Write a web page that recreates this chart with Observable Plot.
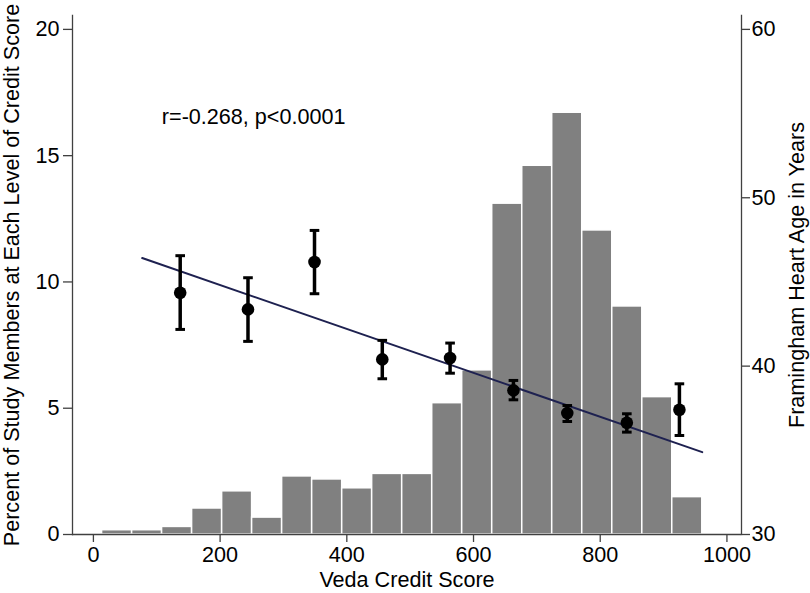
<!DOCTYPE html>
<html>
<head>
<meta charset="utf-8">
<script src="https://cdn.jsdelivr.net/npm/d3@7"></script>
<script src="https://cdn.jsdelivr.net/npm/@observablehq/plot@0.6"></script>
<style>
  html, body { margin: 0; padding: 0; background: #fff; }
</style>
</head>
<body>
<div id="chart"></div>
<script>
// ---- Data ----
// Histogram of Veda credit scores: bin edges and percent of study members per bin
const binEdges = [13.7, 61.1, 108.4, 155.8, 203.2, 250.5, 297.9, 345.3, 392.7, 440.0, 487.4,
                  534.8, 582.1, 629.5, 676.9, 724.2, 771.6, 819.0, 866.4, 913.7, 961.1];
const binPercent = [0.17, 0.17, 0.30, 1.03, 1.71, 0.67, 2.30, 2.18, 1.83, 2.40,
                    2.40, 5.20, 6.50, 13.10, 14.60, 16.70, 12.04, 9.03, 5.44, 1.48];

// Mean Framingham heart age (with CI) per credit-score group
const pointScore = [137, 244, 349, 456, 563, 663, 748, 842, 925];
const pointAge   = [44.36, 43.37, 46.18, 40.40, 40.48, 38.56, 37.21, 36.64, 37.41];
const pointUpper = [46.56, 45.25, 48.06, 41.53, 41.37, 39.15, 37.66, 37.17, 38.95];
const pointLower = [42.18, 41.47, 44.30, 39.25, 39.58, 38.00, 36.71, 36.08, 35.88];

// Linear fit line (end points)
const fitScore = [77, 961];
const fitAge   = [46.42, 34.89];

// Ticks and text
const xTicks = [0, 200, 400, 600, 800, 1000];
const leftTicks = [0, 5, 10, 15, 20];
const rightTicks = [30, 40, 50, 60];
const xTitle = "Veda Credit Score";
const leftTitle = "Percent of Study Members at Each Level of Credit Score";
const rightTitle = "Framingham Heart Age in Years";
const annotation = ["r=-0.268, p<0.0001"];

// ---- Build ----
// The right (age) axis 30..60 maps onto the left (percent) axis 0..20
const toLeft = a => (a - 30) / 1.5;

const bins = binPercent.map((p, i) => ({x1: binEdges[i], x2: binEdges[i + 1], p}));
const pts = pointScore.map((s, i) => ({s, age: pointAge[i], hi: pointUpper[i], lo: pointLower[i]}));
const fit = fitScore.map((s, i) => ({s, age: fitAge[i]}));

const capSymbol = { draw(ctx) { ctx.moveTo(-4.8, 0); ctx.lineTo(4.8, 0); } };
const axisColor = "#404040";
const fs = 21.6;

const chart = Plot.plot({
  width: 810,
  height: 593,
  marginLeft: 72,
  marginRight: 69,
  marginTop: 15,
  marginBottom: 59,
  x: {domain: [-33, 1023]},
  y: {domain: [0, 20.55]},
  style: {fontFamily: "'Liberation Sans', Arial, Helvetica, sans-serif", fontSize: "21.6px", color: "black", background: "white"},
  marks: [
    Plot.rectY(bins, {x1: "x1", x2: "x2", y: "p", fill: "#808080", stroke: "white", strokeWidth: 1.5}),
    Plot.ruleY([0], {stroke: axisColor, strokeWidth: 1.3}),
    Plot.frame({anchor: "left", stroke: axisColor, strokeWidth: 1.3}),
    Plot.frame({anchor: "right", stroke: axisColor, strokeWidth: 1.3}),
    Plot.axisX({ticks: xTicks, tickFormat: d => String(d), tickSize: 8, tickPadding: 4, label: null,
                stroke: axisColor, fill: "black", strokeWidth: 1.3, fontSize: fs}),
    Plot.axisY({anchor: "left", ticks: leftTicks, tickFormat: d => String(d), tickSize: 9, tickPadding: 4, label: null,
                stroke: axisColor, fill: "black", strokeWidth: 1.3, fontSize: fs}),
    Plot.axisY({anchor: "right", ticks: rightTicks.map(toLeft), tickFormat: d => String(Math.round(30 + 1.5 * d)),
                tickSize: 8, tickPadding: 2, label: null, stroke: axisColor, fill: "black", strokeWidth: 1.3, fontSize: fs}),
    Plot.line(fit, {x: "s", y: d => toLeft(d.age), stroke: "#1e2150", strokeWidth: 2}),
    Plot.ruleX(pts, {x: "s", y1: d => toLeft(d.lo), y2: d => toLeft(d.hi), stroke: "black", strokeWidth: 3.5}),
    Plot.dot(pts, {x: "s", y: d => toLeft(d.hi), symbol: capSymbol, r: 5, stroke: "black", fill: "none", strokeWidth: 3}),
    Plot.dot(pts, {x: "s", y: d => toLeft(d.lo), symbol: capSymbol, r: 5, stroke: "black", fill: "none", strokeWidth: 3}),
    Plot.dot(pts, {x: "s", y: d => toLeft(d.age), r: 6.3, fill: "black", stroke: "none"}),
    Plot.text(annotation, {x: () => 108, y: () => 16.27, textAnchor: "start", lineAnchor: "bottom", fill: "black", fontSize: fs}),
    Plot.text([xTitle], {frameAnchor: "bottom", dy: 52, lineAnchor: "bottom", textAnchor: "middle", fill: "black", fontSize: fs}),
    Plot.text([leftTitle], {frameAnchor: "left", rotate: -90, dx: -54, lineAnchor: "bottom", textAnchor: "middle", fill: "black", fontSize: fs}),
    Plot.text([rightTitle], {frameAnchor: "right", rotate: -90, dx: 62, lineAnchor: "bottom", textAnchor: "middle", fill: "black", fontSize: fs})
  ]
});
document.getElementById("chart").appendChild(chart);
</script>
</body>
</html>
